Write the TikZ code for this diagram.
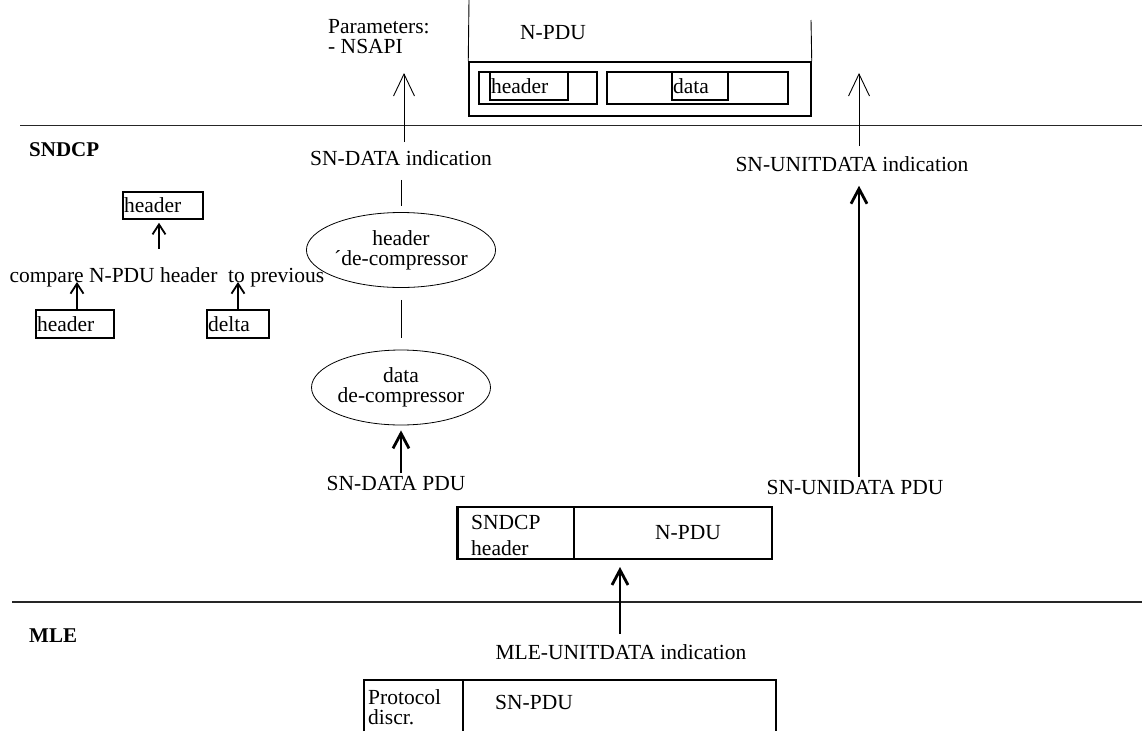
\documentclass[tikz,border=0pt]{standalone}
\usepackage{fontspec}
\setmainfont{Liberation Serif}
\usetikzlibrary{arrows.meta,shapes.geometric}
\begin{document}
\begin{tikzpicture}[x=1pt,y=-1pt,
  every node/.style={font=\fontsize{21.5}{20}\selectfont, inner sep=0pt},
  bx/.style={draw, line width=1.5pt, inner sep=0pt},
  thinline/.style={line width=0.9pt},
  sepline/.style={line width=1.2pt, draw=black!85},
  thinarrow/.style={line width=0.9pt, -{Straight Barb[length=22pt,width=21pt]}},
  thickarrow/.style={line width=2.8pt, -{Straight Barb[length=15pt,width=16pt]}},
  smallarrow/.style={line width=1.8pt, -{Straight Barb[length=10pt,width=13pt]}},
  ell/.style={ellipse, draw, line width=0.8pt, minimum width=172pt, minimum height=75pt, align=center},
  boldlbl/.style={font=\fontsize{21}{20}\selectfont\bfseries, anchor=west}]
\useasboundingbox (0,0) rectangle (1142,731);

% layer separators
\coordinate (l1a) at (20,125.5);
\coordinate (l1b) at (1142,125.5);
\coordinate (l2a) at (12,602);
\coordinate (l2b) at (1142,602);
\draw[sepline] (l1a) -- (l1b);
\draw[sepline] (l2a) -- (l2b);
\node[boldlbl] (sndcp) at (29,150) {SNDCP};
\node[boldlbl] (mle) at (29,636) {MLE};

% top N-PDU
\coordinate (tl1) at (469,0);
\coordinate (tr1) at (811,20);
\node[bx, minimum width=342pt, minimum height=54pt] (outer) at (640,89) {};
\draw[thinline] (tl1) -- (outer.north west);
\draw[thinline] (tr1) -- (outer.north east);
\node (npdutop) at (553,33) {N-PDU};
\node[bx, minimum width=118pt, minimum height=32pt] (hbox) at (538,88) {};
\node[bx, minimum width=78pt, minimum height=28pt, text width=76pt, align=left] (hdr) at (529,86) {header};
\node[bx, minimum width=181pt, minimum height=32pt] (dbox) at (697.5,88) {};
\node[bx, minimum width=56pt, minimum height=28pt, text width=54pt, align=left] (data) at (700,86) {data};

% parameters
\node[anchor=north west, align=left] (params) at (328,19) {Parameters:\\- NSAPI};

% left column
\coordinate (ptip) at (404,73);
\node (sndata) at (401,158) {SN-DATA indication};
\draw[thinarrow, shorten <=8pt] (sndata.north -| ptip) -- (ptip);
\node[ell] (e1) at (401,250) {header\\´de-compressor};
\node[ell] (e2) at (401,387.5) {data\\de-compressor};
\draw[thinline, shorten <=14pt, shorten >=6pt] (sndata.south) -- (e1.north);
\draw[thinline, shorten <=12pt, shorten >=12pt] (e1.south) -- (e2.north);
\node (sdpdu) at (396,483) {SN-DATA PDU};
\draw[thickarrow, shorten <=3pt, shorten >=5pt] (sdpdu.north -| e2.south) -- (e2.south);

% right column
\coordinate (rtip) at (859,73);
\node (suind) at (852,164) {SN-UNITDATA indication};
\draw[thinarrow, shorten <=10pt] (suind.north -| rtip) -- (rtip);
\node (supdu) at (855,487) {SN-UNIDATA PDU};
\draw[thickarrow, shorten <=3pt, shorten >=14pt] (supdu.north -| rtip) -- (suind.south -| rtip);

% SNDCP PDU box
\node[bx, minimum width=117pt, minimum height=52pt] (shdr) at (515.5,533) {};
\node[bx, minimum width=198pt, minimum height=52pt] (spdu) at (673,533) {};
\draw[line width=1pt] ([xshift=2.5pt]shdr.north west) -- ([xshift=2.5pt]shdr.south west);
\node[anchor=north west, align=left, font=\fontsize{21.5}{26}\selectfont] (shtxt) at (471,515) {SNDCP\\header};
\node (npdulbl) at (688,533) {N-PDU};

% MLE indication
\coordinate (mlearr) at (620,559);
\node (mleind) at (621,652) {MLE-UNITDATA indication};
\draw[thickarrow, shorten <=10pt, shorten >=8pt] (mleind.north -| mlearr) -- (mlearr);

% bottom SN-PDU box
\coordinate (bb1) at (364,731);
\coordinate (bb2) at (364,680);
\coordinate (bb3) at (776,680);
\coordinate (bb4) at (776,731);
\coordinate (bd1) at (463,680);
\coordinate (bd2) at (463,731);
\draw[line width=1.5pt] (bb1) -- (bb2) -- (bb3) -- (bb4);
\draw[line width=1.5pt] (bd1) -- (bd2);
\node[anchor=north west, align=left, font=\fontsize{21.5}{20.5}\selectfont] (prot) at (368,689) {Protocol\\discr.};
\node[anchor=west] (snpdu) at (495,702) {SN-PDU};

% left header compare
\node[bx, minimum width=80pt, minimum height=27pt, text width=78pt, align=left] (th) at (163,205.5) {header};
\node[anchor=base] (cmp) at (167,282) {compare N-PDU header~ to previous};
\coordinate (thx) at (159,219);
\draw[smallarrow, shorten <=18pt, shorten >=3pt] (cmp.north -| thx) -- (th.south -| thx);
\node[bx, minimum width=78pt, minimum height=28pt, text width=76pt, align=left] (hb) at (75,324) {header};
\node[bx, minimum width=62pt, minimum height=28pt, text width=60pt, align=left] (db) at (238,324) {delta};
\coordinate (hbx) at (77,310);
\draw[smallarrow] (hb.north -| hbx) -- (cmp.base -| hbx);
\draw[smallarrow] (db.north) -- (cmp.base -| db.north);
\end{tikzpicture}
\end{document}
